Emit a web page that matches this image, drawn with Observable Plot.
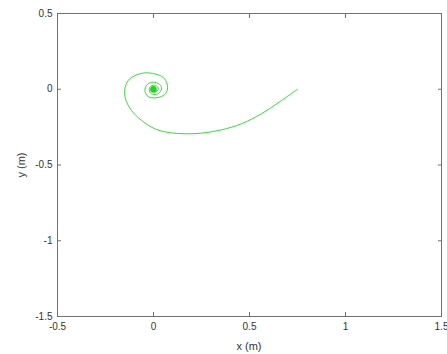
<!DOCTYPE html>
<html>
<head>
<meta charset="utf-8">
<script src="https://cdn.jsdelivr.net/npm/d3@7"></script>
<script src="https://cdn.jsdelivr.net/npm/@observablehq/plot@0.6"></script>
<style>
  body { margin: 0; background: #fff; }
  svg { display: block; }
</style>
</head>
<body>
<div id="chart"></div>
<script>
// Trajectory (metres)
const xs = [0.75, 0.666, 0.562, 0.458, 0.354, 0.25, 0.172, 0.076, 0.007, -0.062, -0.114, -0.146, -0.149, -0.132, -0.097, -0.045, 0.007, 0.05, 0.071, 0.071, 0.05, 0.007, -0.028, -0.045, -0.033, -0.002, 0.033, 0.042, 0.028, 0.002, -0.019, -0.019, 0.0, 0.02, 0.024, 0.01, -0.008, -0.014, -0.006, 0.008, 0.012, 0.004, -0.005, -0.006, 0.0, 0.004, 0.0];
const ys = [0.0, -0.075, -0.162, -0.228, -0.268, -0.29, -0.294, -0.285, -0.261, -0.206, -0.141, -0.064, 0.002, 0.057, 0.09, 0.108, 0.101, 0.079, 0.035, -0.009, -0.042, -0.057, -0.048, -0.009, 0.031, 0.046, 0.031, 0.002, -0.026, -0.035, -0.02, 0.013, 0.026, 0.018, -0.002, -0.018, -0.018, 0.0, 0.015, 0.012, -0.003, -0.011, -0.006, 0.004, 0.006, 0.0, 0.0];
const xTicks = [-0.5, 0, 0.5, 1, 1.5];
const yTicks = [0.5, 0, -0.5, -1, -1.5];
const xLabel = "x (m)";
const yLabel = "y (m)";

const data = xs.map((x, i) => ({x, y: ys[i]}));
const fmt = d => String(d);
const textColor = "#333";
const axisColor = "#707070";

const chart = Plot.plot({
  width: 447,
  height: 354,
  marginLeft: 57,
  marginRight: 6,
  marginTop: 13,
  marginBottom: 38,
  style: {fontFamily: "'Liberation Sans', Arial, sans-serif", fontSize: "10px", background: "#fff", color: textColor},
  x: {domain: [-0.5, 1.5], ticks: xTicks},
  y: {domain: [-1.5, 0.5], ticks: yTicks},
  marks: [
    Plot.frame({stroke: axisColor, strokeWidth: 1}),
    // inward tick marks on all four sides
    Plot.axisX(xTicks, {anchor: "bottom", tickSize: -4, tickFormat: () => "", stroke: axisColor, label: null}),
    Plot.axisX(xTicks, {anchor: "top", tickSize: -4, tickFormat: () => "", stroke: axisColor, label: null}),
    Plot.axisY(yTicks, {anchor: "left", tickSize: -4, tickFormat: () => "", stroke: axisColor, label: null}),
    Plot.axisY(yTicks, {anchor: "right", tickSize: -4, tickFormat: () => "", stroke: axisColor, label: null}),
    // tick labels
    Plot.axisX(xTicks, {anchor: "bottom", tickSize: 0, tickPadding: 6, tickFormat: fmt, fill: textColor, label: null}),
    Plot.axisY(yTicks, {anchor: "left", tickSize: 0, tickPadding: 5, tickFormat: fmt, fill: textColor, label: null}),
    Plot.line(data, {x: "x", y: "y", stroke: "#3ad83a", strokeWidth: 1, curve: "catmull-rom"}),
    Plot.dot([data[data.length - 1]], {x: "x", y: "y", r: 3.2, fill: "#1fd61f", stroke: "none"})
  ]
});

// axis titles
const svg = d3.select(chart);
svg.append("text")
  .attr("x", 249).attr("y", 350)
  .attr("text-anchor", "middle")
  .attr("fill", textColor)
  .style("font-size", "11px")
  .text(xLabel);
svg.append("text")
  .attr("transform", "translate(25,165) rotate(-90)")
  .attr("text-anchor", "middle")
  .attr("fill", textColor)
  .style("font-size", "11px")
  .text(yLabel);

document.getElementById("chart").append(chart);
</script>
</body>
</html>
